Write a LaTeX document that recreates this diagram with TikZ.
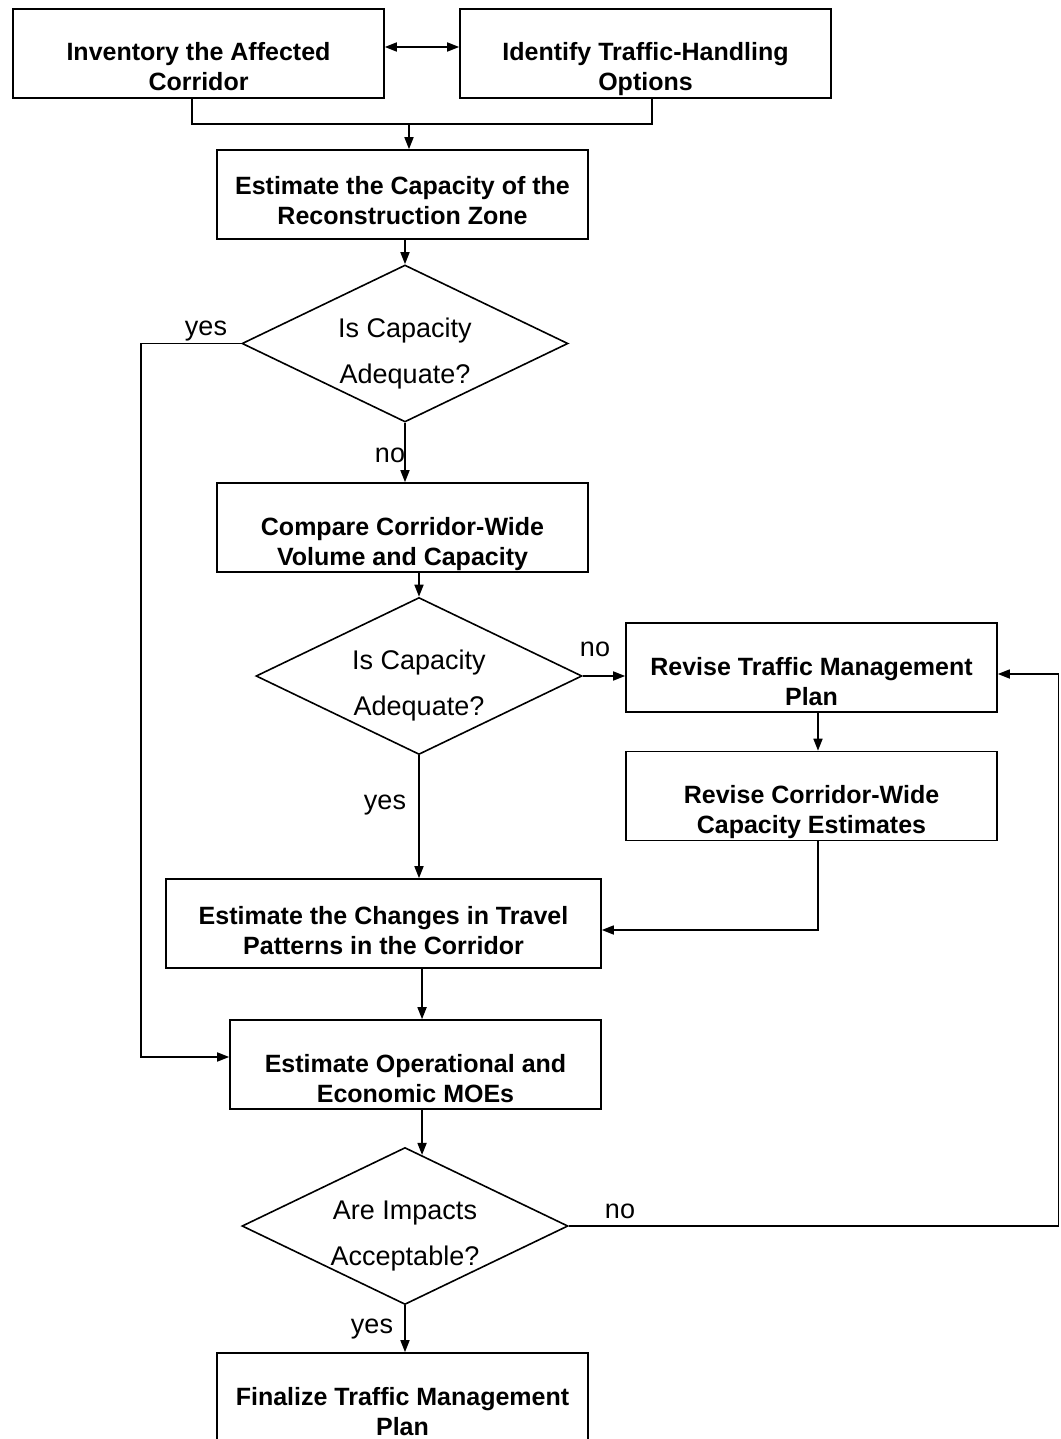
\documentclass[tikz,border=0pt]{standalone}
\usepackage{fontspec}
\setmainfont{Liberation Sans}
\usetikzlibrary{arrows.meta,shapes.geometric,calc}
\begin{document}
\begin{tikzpicture}[x=1pt,y=-1pt,
  box/.style={draw, line width=1.6pt, minimum width=371pt, minimum height=89pt,
    inner sep=0pt, align=center, text height=75pt, text depth=0pt,
    font=\bfseries\fontsize{25}{30}\selectfont},
  hibox/.style={box, text height=61pt},
  dia/.style={draw, diamond, aspect=2.08, line width=1.6pt, minimum width=326pt,
    minimum height=157pt, inner sep=0pt, align=center, text height=79pt, text depth=0pt,
    font=\fontsize{27}{46}\selectfont},
  lbl/.style={font=\fontsize{27}{30}\selectfont, inner sep=0pt},
  ln/.style={line width=1.6pt},
  arr/.style={ln, -{Triangle[length=12pt,width=9pt]}},
  arrboth/.style={ln, {Triangle[length=12pt,width=9pt]}-{Triangle[length=12pt,width=9pt]}}]

\fill[white] (0,0) rectangle (1060,1439);
\useasboundingbox (0,0) rectangle (1060,1439);

% process boxes and decisions
\node[box] (A) at (198.5,53.5) {Inventory the Affected\\Corridor};
\node[box] (B) at (645.5,53.5) {Identify Traffic-Handling\\Options};
\node[hibox] (C) at (402.5,194.5) {Estimate the Capacity of the\\Reconstruction Zone};
\node[dia] (D1) at (405,343.5) {Is Capacity\\Adequate?};
\node[box] (D) at (402.5,527.5) {Compare Corridor-Wide\\Volume and Capacity};
\node[dia] (D2) at (419,676) {Is Capacity\\Adequate?};
\node[box] (E) at (811.5,667.5) {Revise Traffic Management\\Plan};
\node[box] (G) at (811.5,796) {Revise Corridor-Wide\\Capacity Estimates};
\node[hibox, minimum width=435pt] (H) at (383.5,923.5) {Estimate the Changes in Travel\\Patterns in the Corridor};
\node[box] (F) at (415.5,1064.5) {Estimate Operational and\\Economic MOEs};
\node[dia] (D3) at (405,1226) {Are Impacts\\Acceptable?};
\node[box] (I) at (402.5,1397.5) {Finalize Traffic Management\\Plan};

% branch labels
\node[lbl] (y1) at (206,331) {yes};
\node[lbl] (n1) at (390,455) {no};
\node[lbl] (n2) at (595,649) {no};
\node[lbl] (y2) at (385,805) {yes};
\node[lbl] (n3) at (620,1211) {no};
\node[lbl] (y3) at (372,1329) {yes};

% routing points
\coordinate (j) at (409,124);
\coordinate (yesturn) at (141,1057);
\coordinate (rt) at (1058.5,674);
\coordinate (d3in) at ($(D3.north)!0.104!(D3.east)$);

% connectors
\draw[arrboth] ([yshift=6.5pt]A.east) -- ([yshift=6.5pt]B.west);
\draw[ln] ([xshift=-6.5pt]A.south) |- (j) -| ([xshift=6.5pt]B.south);
\draw[arr] (j) -- (j |- C.north);
\draw[arr] (C.south -| D1.north) -- (D1.north);
\draw[arr] (D1.west) -| (yesturn) -- (yesturn -| F.west);
\draw[arr] (D1.south) -- (D1.south |- D.north);
\draw[arr] (D.south -| D2.north) -- (D2.north);
\draw[arr] (D2.east) -- (D2.east -| E.west);
\draw[arr] ([xshift=6.5pt]E.south) -- ([xshift=6.5pt]G.north);
\draw[arr] ([xshift=6.5pt]G.south) |- ([yshift=-6.5pt]H.east);
\draw[arr] (D2.south) -- (D2.south |- H.north);
\draw[arr] (H.south -| d3in) -- (F.north -| d3in);
\draw[arr] (F.south -| d3in) -- (d3in);
\draw[arr] (D3.east) -| (rt) -- (rt -| E.east);
\draw[arr] (D3.south) -- (D3.south |- I.north);
\end{tikzpicture}
\end{document}
